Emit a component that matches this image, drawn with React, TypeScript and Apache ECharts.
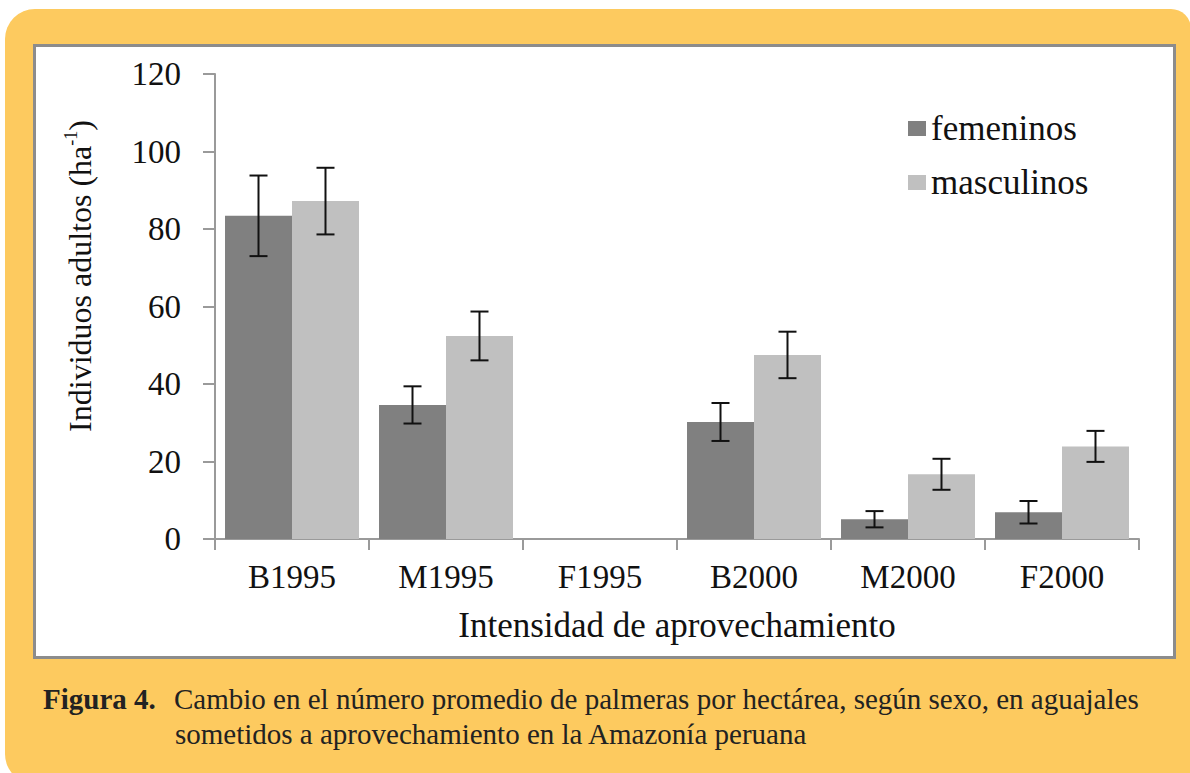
import React, { useEffect, useRef } from "react";
import * as echarts from "echarts";

const categories = ["B1995", "M1995", "F1995", "B2000", "M2000", "F2000"];
const femeninos = [83.4, 34.6, 0, 30.2, 5.1, 6.9];
const femeninosErr = [10.4, 4.8, 0, 4.9, 2.1, 2.9];
const masculinos = [87.2, 52.4, 0, 47.5, 16.7, 23.9];
const masculinosErr = [8.6, 6.3, 0, 6.0, 4.0, 4.0];
const yTicks = { min: 0, max: 120, interval: 20 };

const SERIF = "Liberation Serif";
const GAP = 0.13;

function measure(text: string, font: string) {
  const ctx = document.createElement("canvas").getContext("2d");
  if (!ctx) return text.length * 14;
  ctx.font = font;
  return ctx.measureText(text).width;
}

function errorSeries(values: number[], errs: number[], side: number) {
  return {
    type: "custom",
    z: 5,
    silent: true,
    data: values.map((v, i) => [i, v, errs[i]]),
    renderItem: (params: any, api: any) => {
      const idx = api.value(0);
      const v = api.value(1);
      const e = api.value(2);
      if (!e) return null;
      const band = api.size([1, 0])[0];
      const barW = (band * (1 - GAP)) / 2;
      const c = api.coord([idx, v]);
      const x = c[0] + side * (barW / 2);
      const top = api.coord([idx, v + e])[1];
      const bot = api.coord([idx, v - e])[1];
      const cap = 9;
      const style = { stroke: "#111111", lineWidth: 2 };
      return {
        type: "group",
        children: [
          { type: "line", shape: { x1: x, y1: top, x2: x, y2: bot }, style },
          { type: "line", shape: { x1: x - cap, y1: top, x2: x + cap, y2: top }, style },
          { type: "line", shape: { x1: x - cap, y1: bot, x2: x + cap, y2: bot }, style },
        ],
      };
    },
  };
}

export default function App() {
  const ref = useRef<HTMLDivElement>(null);
  useEffect(() => {
    document.body.style.margin = "0";
    if (!ref.current) return;
    const chart = echarts.init(ref.current, undefined, { renderer: "svg" });
    const axisColor = "#9a9a9a";

    const mainFont = `32px ${SERIF}`;
    const supFont = `18px ${SERIF}`;
    const t1 = "Individuos adultos (ha";
    const t2 = "-1";
    const t3 = ")";
    const w1 = measure(t1, mainFont);
    const w2 = measure(t2, supFont);
    const w3 = measure(t3, mainFont);
    const start = -(w1 + w2 + w3) / 2;

    chart.setOption({
      animation: false,
      backgroundColor: "#ffffff",
      textStyle: { fontFamily: SERIF },
      graphic: [
        {
          type: "rect",
          z: -10,
          shape: { x: 5, y: 9, width: 1186, height: 775, r: [30, 20, 0, 30] },
          style: { fill: "#FDCA5F" },
        },
        {
          type: "rect",
          z: -9,
          shape: { x: 34.5, y: 45.5, width: 1140, height: 612 },
          style: { fill: "#ffffff", stroke: "#8c8c8c", lineWidth: 3 },
        },
        {
          type: "group",
          x: 80,
          y: 276,
          rotation: Math.PI / 2,
          z: 10,
          children: [
            {
              type: "text",
              x: start,
              y: 0,
              style: { text: t1, font: mainFont, fill: "#111111", align: "left", verticalAlign: "middle" },
            },
            {
              type: "text",
              x: start + w1,
              y: -9,
              style: { text: t2, font: supFont, fill: "#111111", align: "left", verticalAlign: "middle" },
            },
            {
              type: "text",
              x: start + w1 + w2,
              y: 0,
              style: { text: t3, font: mainFont, fill: "#111111", align: "left", verticalAlign: "middle" },
            },
          ],
        },
        {
          type: "text",
          z: 10,
          x: 43,
          y: 699,
          style: {
            text: "Figura 4.",
            font: `bold 29px ${SERIF}`,
            fill: "#222222",
            verticalAlign: "middle",
          },
        },
        {
          type: "text",
          z: 10,
          x: 174,
          y: 699,
          style: {
            text: "Cambio en el número promedio de palmeras por hectárea, según sexo, en aguajales",
            font: `29px ${SERIF}`,
            fill: "#222222",
            verticalAlign: "middle",
          },
        },
        {
          type: "text",
          z: 10,
          x: 175,
          y: 734,
          style: {
            text: "sometidos a aprovechamiento en la Amazonía peruana",
            font: `29px ${SERIF}`,
            fill: "#222222",
            verticalAlign: "middle",
          },
        },
      ],
      legend: {
        orient: "vertical",
        left: 903,
        top: 106,
        itemWidth: 18,
        itemHeight: 15,
        itemGap: 19,
        icon: "rect",
        textStyle: {
          fontFamily: SERIF,
          fontWeight: "normal",
          fontStyle: "normal",
          fontSize: 35,
          color: "#111111",
        },
        data: ["femeninos", "masculinos"],
      },
      grid: { left: 215, right: 51, top: 74, bottom: 234 },
      xAxis: {
        type: "category",
        data: categories,
        name: "Intensidad de aprovechamiento",
        nameLocation: "middle",
        nameGap: 69,
        nameTextStyle: { fontFamily: SERIF, fontSize: 35, color: "#111111" },
        axisLine: { lineStyle: { color: axisColor, width: 2 } },
        axisTick: { show: true, length: 11, interval: 0, lineStyle: { color: axisColor, width: 2 } },
        axisLabel: { fontFamily: SERIF, fontSize: 33, color: "#111111", margin: 21, interval: 0 },
      },
      yAxis: {
        type: "value",
        min: yTicks.min,
        max: yTicks.max,
        interval: yTicks.interval,
        splitLine: { show: false },
        axisLine: { show: true, lineStyle: { color: axisColor, width: 2 } },
        axisTick: { show: true, length: 12, lineStyle: { color: axisColor, width: 2 } },
        axisLabel: { fontFamily: SERIF, fontSize: 33, color: "#111111", margin: 34 },
      },
      series: [
        {
          name: "femeninos",
          type: "bar",
          data: femeninos,
          barGap: "0%",
          barCategoryGap: `${GAP * 100}%`,
          itemStyle: { color: "#808080" },
        },
        {
          name: "masculinos",
          type: "bar",
          data: masculinos,
          barGap: "0%",
          barCategoryGap: `${GAP * 100}%`,
          itemStyle: { color: "#c0c0c0" },
        },
        errorSeries(femeninos, femeninosErr, -1),
        errorSeries(masculinos, masculinosErr, 1),
      ],
    });
    return () => chart.dispose();
  }, []);
  return <div ref={ref} style={{ width: 1190, height: 773 }} />;
}
